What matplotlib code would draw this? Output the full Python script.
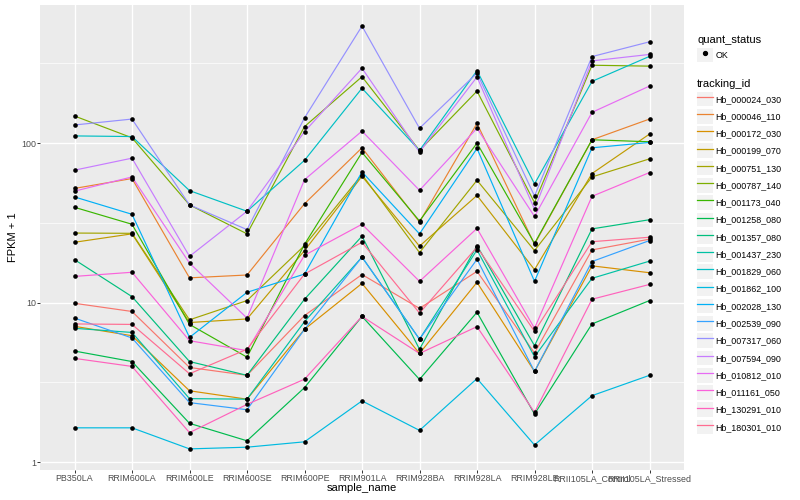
import matplotlib
matplotlib.use('Agg')
import matplotlib.pyplot as plt
from matplotlib.lines import Line2D
from matplotlib.patches import Rectangle
from matplotlib.legend_handler import HandlerTuple

plt.rcParams['font.family'] = ['Liberation Sans', 'DejaVu Sans']

# Samples on the x axis
samples = ['PB350LA', 'RRIM600LA', 'RRIM600LE', 'RRIM600SE', 'RRIM600PE', 'RRIM901LA',
           'RRIM928BA', 'RRIM928LA', 'RRIM928LE', 'RRII105LA_Control', 'RRII105LA_Stressed']

# FPKM + 1 per transcript
hb_000024_030 = [9.9, 8.8, 3.92, 3.5, 8.3, 15.0, 9.2, 15.7, 4.83, 21.4, 25.0]
hb_000046_110 = [52, 60, 14.3, 14.9, 41.7, 93.5, 32, 133, 23.2, 105, 141.6]
hb_000172_030 = [7.1, 6.2, 2.8, 2.48, 6.8, 13.2, 4.8, 13.4, 3.7, 17.0, 15.4]
hb_000199_070 = [23.9, 27, 7.5, 7.9, 21.2, 62, 22.6, 47, 16.1, 64.5, 114]
hb_000751_130 = [27.3, 27.2, 7.8, 10.3, 22.8, 63.5, 20.6, 58.5, 21.2, 61.4, 79.7]
hb_000787_140 = [148, 108, 41, 27, 127, 261, 90, 212, 42.4, 308, 304]
hb_001173_040 = [39.6, 31, 7.3, 4.55, 23.2, 87.5, 32.5, 100, 23.5, 105, 102]
hb_001258_080 = [4.97, 4.27, 1.75, 1.36, 2.93, 8.2, 3.3, 8.7, 2.0, 7.35, 10.3]
hb_001357_080 = [18.6, 10.9, 4.27, 3.5, 10.5, 26.1, 5.1, 22.8, 5.37, 29, 33.1]
hb_001437_230 = [6.9, 6.5, 2.5, 2.48, 7.6, 19.3, 5.9, 21.4, 4.58, 14.2, 18.2]
hb_001829_060 = [111, 110, 50.4, 37.4, 78, 221, 90, 285, 55.5, 244, 350]
hb_001862_100 = [1.64, 1.64, 1.21, 1.24, 1.34, 2.42, 1.58, 3.34, 1.28, 2.61, 3.5]
hb_002028_130 = [46, 35.8, 6.05, 11.6, 15.1, 66, 27, 92.6, 13.6, 93.5, 101]
hb_002539_090 = [8.0, 6.0, 2.36, 2.13, 6.8, 19.3, 5.9, 18.7, 3.7, 18.1, 24.5]
hb_007317_060 = [130, 141.6, 41, 28.7, 144, 542, 124, 275, 46.6, 349, 432]
hb_007594_090 = [67.7, 80.5, 19.5, 37.4, 118, 295, 88, 260, 38.5, 328, 360]
hb_010812_010 = [50, 61.4, 17.7, 8.0, 59, 119, 50.6, 124, 34.7, 156, 228]
hb_011161_050 = [14.6, 15.5, 5.77, 5.0, 19.8, 31, 13.6, 29.2, 6.9, 46.4, 65.4]
hb_130291_010 = [4.47, 3.98, 1.53, 2.3, 3.31, 8.2, 4.8, 7.07, 2.05, 10.5, 13.0]
hb_180301_010 = [7.35, 7.3, 3.58, 5.1, 15.1, 23.9, 8.6, 22.3, 6.6, 24.1, 25.7]

tracking_ids = ['Hb_000024_030', 'Hb_000046_110', 'Hb_000172_030', 'Hb_000199_070',
                'Hb_000751_130', 'Hb_000787_140', 'Hb_001173_040', 'Hb_001258_080',
                'Hb_001357_080', 'Hb_001437_230', 'Hb_001829_060', 'Hb_001862_100',
                'Hb_002028_130', 'Hb_002539_090', 'Hb_007317_060', 'Hb_007594_090',
                'Hb_010812_010', 'Hb_011161_050', 'Hb_130291_010', 'Hb_180301_010']
series = [hb_000024_030, hb_000046_110, hb_000172_030, hb_000199_070, hb_000751_130,
          hb_000787_140, hb_001173_040, hb_001258_080, hb_001357_080, hb_001437_230,
          hb_001829_060, hb_001862_100, hb_002028_130, hb_002539_090, hb_007317_060,
          hb_007594_090, hb_010812_010, hb_011161_050, hb_130291_010, hb_180301_010]

# ggplot default hue palette for 20 groups
colors = ['#F8766D', '#EA8331', '#D89000', '#C09B00', '#A3A500', '#7CAE00', '#39B600',
          '#00BB4E', '#00BF7D', '#00C1A3', '#00BFC4', '#00BAE0', '#00B0F6', '#35A2FF',
          '#9590FF', '#C77CFF', '#E76BF3', '#FA62DB', '#FF62BC', '#FF6C91']

fig = plt.figure(figsize=(8, 5), dpi=100)
ax = fig.add_axes([40 / 800, 30 / 500, 644 / 800, 465 / 500])
ax.set_facecolor('#EBEBEB')

x = list(range(len(samples)))
for vals, c in zip(series, colors):
    ax.plot(x, vals, color=c, lw=0.85, zorder=2)
for vals in series:
    ax.scatter(x, vals, s=11, color='black', marker='o', linewidths=0, zorder=3)

ax.set_yscale('log')
ax.set_ylim(0.892, 735)
ax.set_xlim(-0.6, len(samples) - 0.4)
ax.set_yticks([1, 10, 100])
ax.set_yticklabels(['1', '10', '100'])
ax.set_yticks([10 ** 0.5, 10 ** 1.5, 10 ** 2.5], minor=True)
ax.set_yticklabels([], minor=True)
ax.set_xticks(x)
ax.set_xticklabels(samples)

ax.grid(which='major', color='white', lw=1.0)
ax.grid(which='minor', axis='y', color='white', lw=0.5)
ax.set_axisbelow(True)
for s in ax.spines.values():
    s.set_visible(False)
ax.tick_params(which='major', length=2.0, width=0.7, color='#333333',
               labelsize=6.4, labelcolor='#4D4D4D', pad=0.8)
ax.tick_params(which='minor', length=0)

ax.set_xlabel('sample_name', fontsize=8, labelpad=0.3)
ax.set_ylabel('FPKM + 1', fontsize=8, labelpad=2)

# legends in ggplot style (grey key boxes)
def key(handle):
    bg = Rectangle((0, 0), 1, 1, facecolor='#F2F2F2', edgecolor='none')
    return (bg, handle)

hmap = {tuple: HandlerTuple(ndivide=1, pad=0)}
common = dict(frameon=False, loc='upper left', bbox_transform=fig.transFigure,
              fontsize=6.4, title_fontsize=8, handlelength=1.75, handleheight=2.15,
              labelspacing=0.3, handletextpad=0.35, borderpad=0, borderaxespad=0,
              alignment='left', handler_map=hmap)

dot = Line2D([], [], ls='none', marker='o', markersize=2.8, color='black')
leg1 = ax.legend([key(dot)], ['OK'], title='quant_status',
                 bbox_to_anchor=(697 / 800, 1 - 35 / 500), **common)
ax.add_artist(leg1)

line_handles = [key(Line2D([], [], color=c, lw=0.9)) for c in colors]
ax.legend(line_handles, tracking_ids, title='tracking_id',
          bbox_to_anchor=(697 / 800, 1 - 79 / 500), **common)

fig.savefig('out.png', dpi=100)
